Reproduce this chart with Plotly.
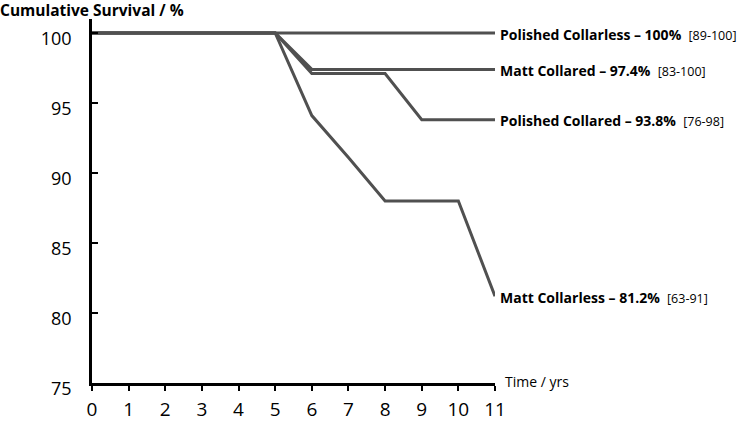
import plotly.graph_objects as go

years = [0, 1, 2, 3, 4, 5, 6, 7, 8, 9, 10, 11]
polished_collarless = [100, 100, 100, 100, 100, 100, 100, 100, 100, 100, 100, 100]
matt_collared = [100, 100, 100, 100, 100, 100, 97.4, 97.4, 97.4, 97.4, 97.4, 97.4]
polished_collared = [100, 100, 100, 100, 100, 100, 97.1, 97.1, 97.1, 93.8, 93.8, 93.8]
matt_collarless = [100, 100, 100, 100, 100, 100, 94.1, 91.1, 88.0, 88.0, 88.0, 81.2]

series_names = ["Polished Collarless", "Matt Collared", "Polished Collared", "Matt Collarless"]
series_values = [polished_collarless, matt_collared, polished_collared, matt_collarless]
end_pct = ["100%", "97.4%", "93.8%", "81.2%"]
ci_labels = ["[89-100]", "[83-100]", "[76-98]", "[63-91]"]

y_ticks = [75, 80, 85, 90, 95, 100]
x_ticks = years

FONT = "Open Sans"
LINE_COLOR = "#505050"

fig = go.Figure()
for name, vals in zip(series_names, series_values):
    fig.add_trace(go.Scatter(x=years, y=vals, mode="lines", name=name,
                             line=dict(color=LINE_COLOR, width=3),
                             showlegend=False, hoverinfo="skip"))

for name, vals, pct, ci in zip(series_names, series_values, end_pct, ci_labels):
    fig.add_annotation(x=years[-1], y=vals[-1], xref="x", yref="y",
                       text=f"<b>{name} – {pct}</b>&nbsp;&nbsp;<span style='font-size:12.5px'>{ci}</span>",
                       showarrow=False, xanchor="left", yanchor="middle",
                       xshift=3, yshift=-1, font=dict(family=FONT, size=14, color="black"))

fig.add_annotation(x=years[-1], y=75, xref="x", yref="y", text="Time / yrs",
                   showarrow=False, xanchor="left", yanchor="middle", xshift=8, yshift=2,
                   font=dict(family=FONT, size=14, color="black"))

fig.add_annotation(x=0, y=1, xref="paper", yref="paper", text="<b>Cumulative Survival / %</b>",
                   showarrow=False, xanchor="left", yanchor="middle",
                   xshift=-94, yshift=9,
                   font=dict(family=FONT, size=15.5, color="black"))

fig.update_layout(
    width=742, height=422,
    margin=dict(l=92, r=247, t=19, b=39, autoexpand=False),
    plot_bgcolor="white", paper_bgcolor="white",
    font=dict(family=FONT, color="black"),
)
fig.update_xaxes(range=[0, 11], tickvals=x_ticks, ticktext=[str(v) for v in x_ticks],
                 showline=True, linecolor="black", linewidth=2.5,
                 ticks="outside", ticklen=5, tickwidth=2, tickcolor="black",
                 ticklabelstandoff=2, automargin=False,
                 showgrid=False, zeroline=False, tickfont=dict(size=19, family=FONT))
fig.update_yaxes(range=[75, 101], tickvals=y_ticks, ticktext=[str(v) for v in y_ticks],
                 showline=True, linecolor="black", linewidth=2.5,
                 ticks="inside", ticklen=6, tickwidth=2, tickcolor="black",
                 ticklabelstandoff=14, ticklabelshift=6, automargin=False,
                 showgrid=False, zeroline=False, tickfont=dict(size=18, family=FONT))

fig.write_html("out.html", config={"displayModeBar": False},
               post_script="document.body.style.margin='0';document.body.style.overflow='hidden';")
